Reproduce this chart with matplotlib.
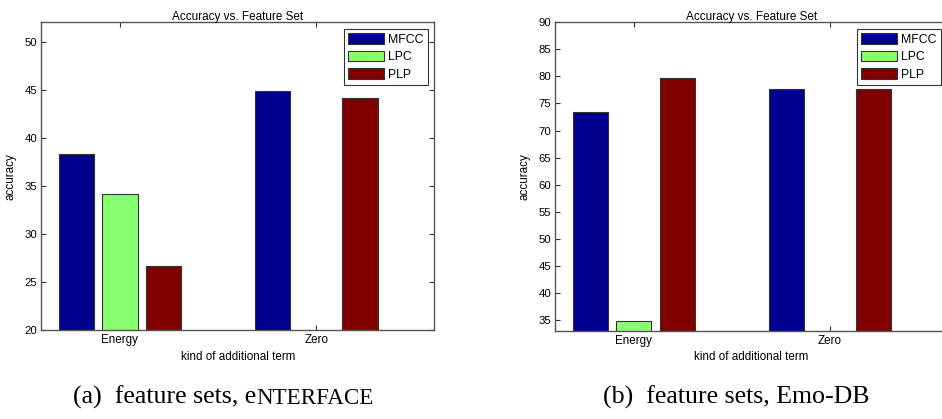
import numpy as np
import matplotlib
matplotlib.use("Agg")
import matplotlib.pyplot as plt

plt.rcParams['font.family'] = ['Liberation Sans', 'DejaVu Sans']

categories = ["Energy", "Zero"]
series = ["MFCC", "LPC", "PLP"]
colors = ["#00008F", "#88FF70", "#800000"]

# accuracy values (LPC/Zero bar not visible -> 0)
enterface_vals = {"MFCC": [38.3, 44.9], "LPC": [34.2, 0.0], "PLP": [26.7, 44.1]}
emodb_vals = {"MFCC": [73.5, 77.6], "LPC": [34.8, 0.0], "PLP": [79.7, 77.6]}

W, H = 942, 419
fig = plt.figure(figsize=(W / 100, H / 100), dpi=100)


def panel(rect, vals, ylim, yticks):
    ax = fig.add_axes(rect)
    x = np.arange(1, len(categories) + 1)
    width = 0.18
    offsets = [-0.222, 0.0, 0.222]
    for s, c, off in zip(series, colors, offsets):
        ax.bar(x + off, vals[s], width, color=c, edgecolor="#333333",
               linewidth=0.8, label=s)
    ax.set_xlim(0.6, 2.6)
    ax.set_ylim(*ylim)
    ax.set_yticks(yticks)
    ax.set_xticks(x)
    ax.set_xticklabels(categories, fontsize=8.4)
    ax.tick_params(axis="y", labelsize=8.2)
    ax.tick_params(direction="in", length=3.5, width=0.8, color="#333333",
                   top=True, right=True, pad=3)
    ax.set_axisbelow(True)
    for sp in ax.spines.values():
        sp.set_color("#555555")
        sp.set_linewidth(1.0)
    ax.set_title("Accuracy vs. Feature Set", fontsize=8.5, pad=2)
    ax.set_xlabel("kind of additional term", fontsize=8.4, labelpad=3)
    ax.set_ylabel("accuracy", fontsize=8.4, labelpad=6)
    leg = ax.legend(loc="upper right", fontsize=8.8, frameon=True, fancybox=False,
                    edgecolor="black", handlelength=2.95, handleheight=0.95,
                    borderpad=0.36, labelspacing=0.42, handletextpad=0.3,
                    borderaxespad=0.52, bbox_to_anchor=(1, 1))
    leg.get_frame().set_linewidth(0.8)
    return ax


ax1 = panel([41.3 / W, 1 - 330.3 / H, 393 / W, 308 / H], enterface_vals,
            (20, 52), np.arange(20, 51, 5))
ax2 = panel([555.3 / W, 1 - 330.7 / H, 392 / W, 308.4 / H], emodb_vals,
            (33, 90), np.arange(35, 91, 5))

# subfigure captions (serif, small caps imitated with a smaller size)
cap_y = 1 - 404 / H
t1 = fig.text(73.3 / W, cap_y, "(a)  feature sets, e", fontsize=18.6,
              family="Liberation Serif", va="baseline", ha="left")
fig.canvas.draw()
ax1.annotate("NTERFACE", xy=(1, 0), xycoords=t1, fontsize=16.6,
             family="Liberation Serif", va="bottom", ha="left",
             annotation_clip=False)
fig.text(736.7 / W, cap_y, "(b)  feature sets, Emo-DB", fontsize=18.6,
         family="Liberation Serif", va="baseline", ha="center")

fig.savefig("out.png", dpi=100)
